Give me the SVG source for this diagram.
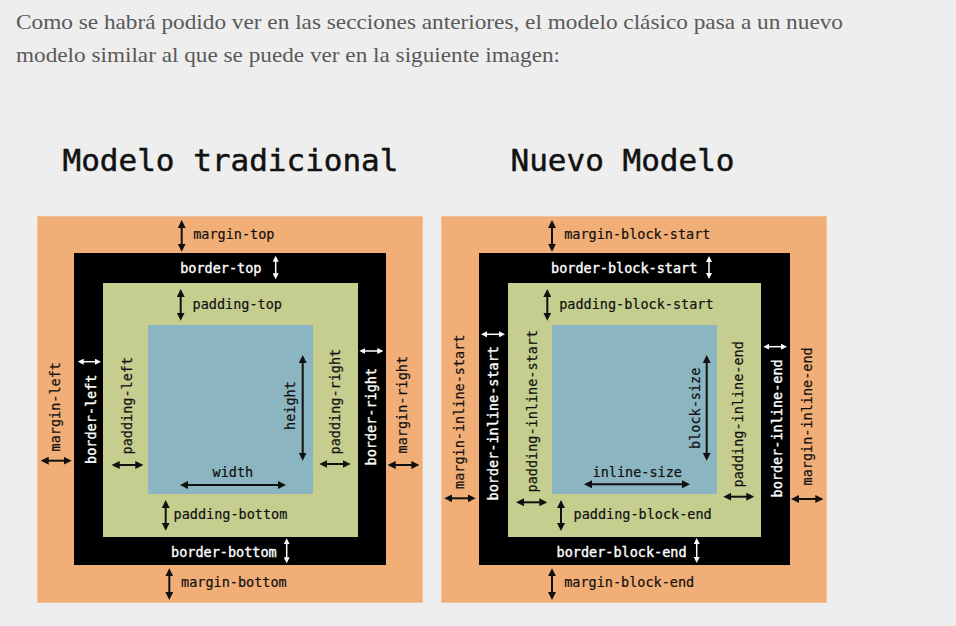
<svg xmlns="http://www.w3.org/2000/svg" width="956" height="626" viewBox="0 0 956 626">
<style>
.para{font-family:"Liberation Serif","Noto Serif",serif;font-size:21px;fill:#595959}
.title{font-family:"DejaVu Sans Mono","Liberation Mono",monospace;font-size:31px;fill:#111;stroke:#111;stroke-width:0.5}
.lbl{font-family:"DejaVu Sans Mono","Liberation Mono",monospace;font-size:13.5px;fill:#111;stroke:#111;stroke-width:0.2}
.wl{font-family:"DejaVu Sans Mono","Liberation Mono",monospace;font-size:13.5px;fill:#fff;stroke:#fff;stroke-width:0.35}
.margin{fill:#F1AE76;stroke:#F4C29A;stroke-width:1}
.border{fill:#000}
.padding{fill:#C5CD8F}
.content{fill:#8BB5C0}
.ab{stroke:#111;stroke-width:2;fill:none;marker-start:url(#hb);marker-end:url(#hb)}
.aw{stroke:#fff;stroke-width:1.5;fill:none;marker-start:url(#hw);marker-end:url(#hw)}
</style>
<defs>
<marker id="hb" viewBox="0 0 8 8" refX="2" refY="4" markerWidth="8" markerHeight="8" markerUnits="userSpaceOnUse" orient="auto-start-reverse"><path d="M0,0 L8,4 L0,8 Z" fill="#111"/></marker>
<marker id="hw" viewBox="0 0 6 6" refX="1.5" refY="3" markerWidth="6" markerHeight="6" markerUnits="userSpaceOnUse" orient="auto-start-reverse"><path d="M0,0 L6,3 L0,6 Z" fill="#fff"/></marker>
</defs>
<rect width="956" height="626" fill="#EEEEEE"/>
<g id="intro">
<text class="para" x="16" y="29" textLength="827" lengthAdjust="spacingAndGlyphs">Como se habrá podido ver en las secciones anteriores, el modelo clásico pasa a un nuevo</text>
<text class="para" x="16" y="62" textLength="544" lengthAdjust="spacingAndGlyphs">modelo similar al que se puede ver en la siguiente imagen:</text>
</g>
<g id="title-traditional"><text class="title" x="62.5" y="171">Modelo tradicional</text></g>
<g id="title-new"><text class="title" x="510.5" y="171">Nuevo Modelo</text></g>

<g id="traditional-model">
<rect id="t-margin" class="margin" x="37.5" y="216.5" width="385" height="386"/>
<rect id="t-border" class="border" x="74" y="253" width="312" height="312"/>
<rect id="t-padding" class="padding" x="103" y="283" width="255" height="254"/>
<rect id="t-content" class="content" x="148" y="325" width="165" height="169"/>
</g>
<g id="new-model">
<rect id="n-margin" class="margin" x="441.5" y="216.5" width="385" height="386"/>
<rect id="n-border" class="border" x="479" y="253" width="311" height="312"/>
<rect id="n-padding" class="padding" x="508" y="283" width="253" height="254"/>
<rect id="n-content" class="content" x="552" y="325" width="165" height="169"/>
</g>

<g id="connectors">
<path class="ab" d="M181.7,226 V245.7"/>
<path class="ab" d="M180.7,295 V314.7"/>
<path class="ab" d="M165.7,506 V524.7"/>
<path class="ab" d="M169.3,574.3 V594"/>
<path class="ab" d="M46.7,460.7 H65.7"/>
<path class="ab" d="M117.7,465 H137.3"/>
<path class="ab" d="M186,485 H280"/>
<path class="ab" d="M302.7,361 V454.7"/>
<path class="ab" d="M325.3,464 H344.7"/>
<path class="ab" d="M393.7,465 H413.3"/>
<path class="aw" d="M275.7,260.2 V274.8"/>
<path class="aw" d="M286.7,542.8 V558.8"/>
<path class="aw" d="M82.2,361.7 H96.5"/>
<path class="aw" d="M363.8,351 H378.8"/>

<path class="ab" d="M552,226 V245.7"/>
<path class="ab" d="M547.3,295 V314.7"/>
<path class="ab" d="M561,506 V525"/>
<path class="ab" d="M552,574.3 V594"/>
<path class="ab" d="M450.3,498.3 H469.7"/>
<path class="ab" d="M522,502.3 H541.3"/>
<path class="ab" d="M590,484.3 H684"/>
<path class="ab" d="M706.7,361 V454.7"/>
<path class="ab" d="M729.3,496.7 H748.3"/>
<path class="ab" d="M797,499 H817.3"/>
<path class="aw" d="M709,260.5 V274.5"/>
<path class="aw" d="M696.7,542.5 V558.5"/>
<path class="aw" d="M485.5,334.3 H500.5"/>
<path class="aw" d="M767.8,346.7 H782.5"/>
</g>

<g id="traditional-labels">
<text class="lbl" x="193.2" y="238.5">margin-top</text>
<text class="wl" x="180.2" y="273.3">border-top</text>
<text class="lbl" x="192.5" y="309">padding-top</text>
<text class="lbl" x="173.5" y="519.3">padding-bottom</text>
<text class="wl" x="171" y="556.7">border-bottom</text>
<text class="lbl" x="181" y="587.3">margin-bottom</text>
<text class="lbl" x="212.5" y="476.7">width</text>
<text class="lbl" transform="translate(60,451.5) rotate(-90)">margin-left</text>
<text class="wl" transform="translate(95.5,464) rotate(-90)">border-left</text>
<text class="lbl" transform="translate(132,454.5) rotate(-90)">padding-left</text>
<text class="lbl" transform="translate(295,430) rotate(-90)">height</text>
<text class="lbl" transform="translate(340,454.5) rotate(-90)">padding-right</text>
<text class="wl" transform="translate(376,465.5) rotate(-90)">border-right</text>
<text class="lbl" transform="translate(406.5,453.5) rotate(-90)">margin-right</text>
</g>

<g id="new-labels">
<text class="lbl" x="564.2" y="238.5">margin-block-start</text>
<text class="wl" x="551" y="273.3">border-block-start</text>
<text class="lbl" x="559.2" y="309">padding-block-start</text>
<text class="lbl" x="573.5" y="519.3">padding-block-end</text>
<text class="wl" x="556.5" y="556.7">border-block-end</text>
<text class="lbl" x="564.2" y="587.3">margin-block-end</text>
<text class="lbl" x="592.5" y="476.7">inline-size</text>
<text class="lbl" transform="translate(464,489) rotate(-90)">margin-inline-start</text>
<text class="wl" transform="translate(498,500.5) rotate(-90)">border-inline-start</text>
<text class="lbl" transform="translate(536.5,492.5) rotate(-90)">padding-inline-start</text>
<text class="lbl" transform="translate(700,449) rotate(-90)">block-size</text>
<text class="lbl" transform="translate(743,487.5) rotate(-90)">padding-inline-end</text>
<text class="wl" transform="translate(781.5,497.5) rotate(-90)">border-inline-end</text>
<text class="lbl" transform="translate(811.5,485.5) rotate(-90)">margin-inline-end</text>
</g>
</svg>
